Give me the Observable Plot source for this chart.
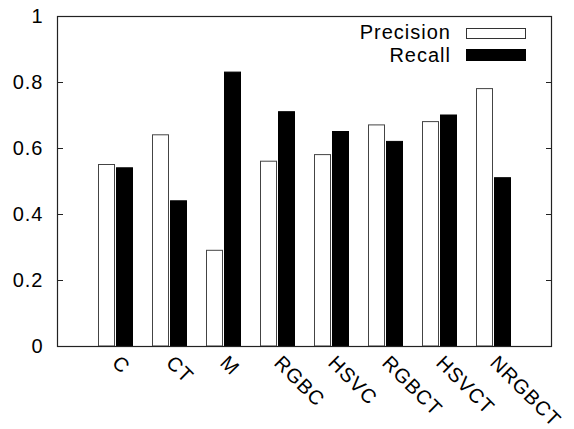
<!DOCTYPE html>
<html><head><meta charset="utf-8">
<script src="https://cdn.jsdelivr.net/npm/d3@7"></script>
<script src="https://cdn.jsdelivr.net/npm/@observablehq/plot@0.6"></script>
<style>
body{margin:0;background:#fff}
#wrap{position:relative;width:574px;height:429px;overflow:hidden}
.lg-text{position:absolute;right:123px;font:20px "Liberation Sans",Arial,sans-serif;letter-spacing:1px;line-height:22px;color:#000;white-space:nowrap}
.lg-sw{position:absolute;left:466px;width:60px;box-sizing:border-box;border:1px solid #333}
</style></head><body><div id="wrap"></div>
<script>
const categories = ["C","CT","M","RGBC","HSVC","RGBCT","HSVCT","NRGBCT"];
const seriesNames = ["Precision","Recall"];
const precision = [0.55,0.64,0.29,0.56,0.58,0.67,0.68,0.78];
const recall = [0.54,0.44,0.83,0.71,0.65,0.62,0.70,0.51];
const yTicks = [0,0.2,0.4,0.6,0.8,1];
const seriesFill = ["#fff","#000"];

const precRows = categories.map((c,i)=>({category:c, series:seriesNames[0], value:precision[i]}));
const recRows = categories.map((c,i)=>({category:c, series:seriesNames[1], value:recall[i]}));

const chart = Plot.plot({
  width:574, height:429,
  marginLeft:57, marginRight:23, marginTop:16, marginBottom:83,
  style:{fontFamily:'"Liberation Sans", Arial, sans-serif', fontSize:"20px", letterSpacing:"1px", background:"#fff", color:"#000", overflow:"visible"},
  x:{domain:categories, paddingInner:0, paddingOuter:0.5, label:null},
  y:{domain:[0,1], label:null},
  marks:[
    Plot.barY(precRows, {x:"category", y:"value", fill:seriesFill[0], stroke:"#444", strokeWidth:1, insetLeft:10.5, insetRight:27.5}),
    Plot.barY(recRows, {x:"category", y:"value", fill:seriesFill[1], stroke:"#000", strokeWidth:1, insetLeft:28.5, insetRight:9.5}),
    Plot.axisY(yTicks, {anchor:"left", tickSize:-6, tickPadding:20, tickFormat:d=>String(d), stroke:"#222"}),
    Plot.axisY(yTicks, {anchor:"right", tickSize:-6, tickFormat:()=>"", stroke:"#222"}),
    Plot.axisX({tickRotate:45, tickSize:0, tickPadding:13, dx:0, fontSize:20, letterSpacing:"1px"}),
    Plot.frame({stroke:"#222", strokeWidth:1.2})
  ]
});
const wrap = document.getElementById("wrap");
wrap.appendChild(chart);

const lgTops = [21, 44];
const swTops = [28, 49];
const swH = [11, 12];
seriesNames.forEach((name,i)=>{
  const t = document.createElement("div");
  t.className = "lg-text"; t.style.top = lgTops[i]+"px"; t.textContent = name;
  wrap.appendChild(t);
  const s = document.createElement("div");
  s.className = "lg-sw"; s.style.top = swTops[i]+"px"; s.style.height = swH[i]+"px";
  s.style.background = seriesFill[i];
  if (i===1) s.style.borderColor = "#000";
  wrap.appendChild(s);
});
</script>
</body></html>
